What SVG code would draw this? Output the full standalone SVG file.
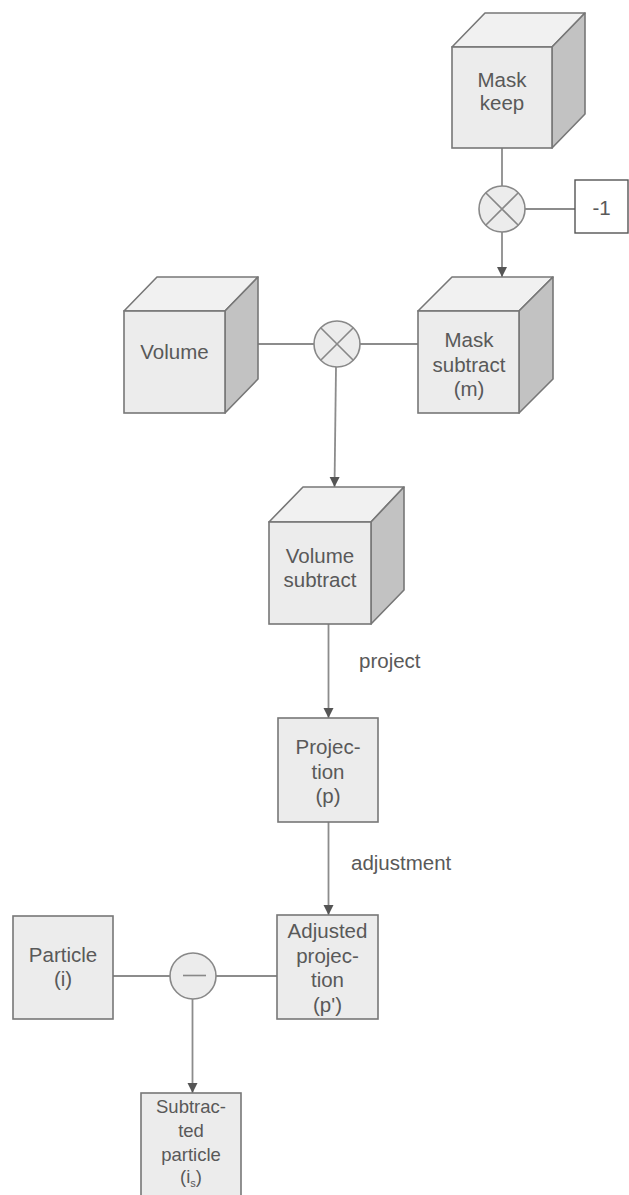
<svg xmlns="http://www.w3.org/2000/svg" width="629" height="1195" viewBox="0 0 629 1195">
  <style>
    .front { fill: #ececec; stroke: #777; stroke-width: 1.6; }
    .top { fill: #f1f1f1; stroke: #777; stroke-width: 1.6; stroke-linejoin: round; }
    .side { fill: #c2c2c2; stroke: #777; stroke-width: 1.6; stroke-linejoin: round; }
    .box { fill: #ececec; stroke: #777; stroke-width: 1.6; }
    .op { fill: #ececec; stroke: #888; stroke-width: 1.6; }
    .opmark { stroke: #888; stroke-width: 1.6; fill: none; }
    .wire { stroke: #8c8c8c; stroke-width: 1.8; fill: none; }
    .lbl { font-family: "Liberation Sans", Arial, sans-serif; font-size: 20.5px; fill: #595959; text-anchor: middle; }
    .edge-lbl { font-family: "Liberation Sans", Arial, sans-serif; font-size: 20.5px; fill: #595959; }
  </style>
  <defs>
    <marker id="arrow" markerWidth="10" markerHeight="12" refX="10" refY="5" orient="auto" markerUnits="userSpaceOnUse">
      <path d="M0,0 L10,5 L0,10 Z" fill="#555"/>
    </marker>
  </defs>

  <!-- connectors -->
  <g id="connectors">
    <line class="wire" x1="502" y1="148" x2="502" y2="186"/>
    <line class="wire" x1="525" y1="209" x2="575" y2="209"/>
    <line class="wire" x1="502" y1="232" x2="502" y2="277" marker-end="url(#arrow)"/>
    <line class="wire" x1="258" y1="344" x2="314" y2="344"/>
    <line class="wire" x1="360" y1="344" x2="418" y2="344"/>
    <line class="wire" x1="336" y1="367" x2="334.5" y2="487" marker-end="url(#arrow)"/>
    <line class="wire" x1="328.5" y1="624" x2="328.5" y2="718" marker-end="url(#arrow)"/>
    <line class="wire" x1="328.5" y1="822" x2="328.5" y2="915" marker-end="url(#arrow)"/>
    <line class="wire" x1="113" y1="976" x2="170" y2="976"/>
    <line class="wire" x1="216" y1="976" x2="277" y2="976"/>
    <line class="wire" x1="192.5" y1="999" x2="192.5" y2="1093" marker-end="url(#arrow)"/>
    <text class="edge-lbl" x="359" y="668">project</text>
    <text class="edge-lbl" x="351" y="870">adjustment</text>
  </g>

  <!-- Mask keep (cube) -->
  <g id="mask-keep">
    <polygon class="top" points="452,47 485,13 585,13 552,47"/>
    <polygon class="side" points="552,47 585,13 585,114 552,148"/>
    <rect class="front" x="452" y="47" width="100" height="101"/>
    <text class="lbl" x="502" y="87">Mask</text>
    <text class="lbl" x="502" y="110">keep</text>
  </g>

  <!-- multiply by constant -->
  <g id="mul-keep">
    <circle class="op" cx="502" cy="209" r="23"/>
    <path class="opmark" d="M485.7,192.7 L518.3,225.3 M518.3,192.7 L485.7,225.3"/>
  </g>

  <g id="const-minus-one">
    <rect x="575" y="180" width="53" height="53" fill="#fff" stroke="#555" stroke-width="1.4"/>
    <text class="lbl" x="601.5" y="215">-1</text>
  </g>

  <!-- Mask subtract (cube) -->
  <g id="mask-subtract">
    <polygon class="top" points="418,311 452,277 553,277 519,311"/>
    <polygon class="side" points="519,311 553,277 553,379 519,413"/>
    <rect class="front" x="418" y="311" width="101" height="102"/>
    <text class="lbl" x="469" y="347">Mask</text>
    <text class="lbl" x="469" y="372">subtract</text>
    <text class="lbl" x="469" y="396">(m)</text>
  </g>

  <!-- Volume (cube) -->
  <g id="volume">
    <polygon class="top" points="124,311 157,277 258,277 225,311"/>
    <polygon class="side" points="225,311 258,277 258,379 225,413"/>
    <rect class="front" x="124" y="311" width="101" height="102"/>
    <text class="lbl" x="174.5" y="359">Volume</text>
  </g>

  <!-- multiply volume by mask -->
  <g id="mul-volume">
    <circle class="op" cx="337" cy="344" r="23"/>
    <path class="opmark" d="M320.7,327.7 L353.3,360.3 M353.3,327.7 L320.7,360.3"/>
  </g>

  <!-- Volume subtract (cube) -->
  <g id="volume-subtract">
    <polygon class="top" points="269,522 303,487 404,487 371,522"/>
    <polygon class="side" points="371,522 404,487 404,590 371,624"/>
    <rect class="front" x="269" y="522" width="102" height="102"/>
    <text class="lbl" x="320" y="563">Volume</text>
    <text class="lbl" x="320" y="587">subtract</text>
  </g>

  <!-- Projection -->
  <g id="projection">
    <rect class="box" x="278" y="718" width="100" height="104"/>
    <text class="lbl" x="328" y="754">Projec-</text>
    <text class="lbl" x="328" y="779">tion</text>
    <text class="lbl" x="328" y="803">(p)</text>
  </g>

  <!-- Adjusted projection -->
  <g id="adjusted-projection">
    <rect class="box" x="277" y="915" width="101" height="104"/>
    <text class="lbl" x="327.5" y="938">Adjusted</text>
    <text class="lbl" x="327.5" y="963">projec-</text>
    <text class="lbl" x="327.5" y="987">tion</text>
    <text class="lbl" x="327.5" y="1012">(p')</text>
  </g>

  <!-- Particle -->
  <g id="particle">
    <rect class="box" x="13" y="916" width="100" height="103"/>
    <text class="lbl" x="63" y="962">Particle</text>
    <text class="lbl" x="63" y="986">(i)</text>
  </g>

  <!-- subtraction -->
  <g id="subtract-op">
    <circle class="op" cx="193" cy="976" r="23"/>
    <line class="opmark" x1="183" y1="975.5" x2="206" y2="975.5"/>
  </g>

  <!-- Subtracted particle -->
  <g id="subtracted-particle">
    <rect class="box" x="141" y="1093" width="100" height="120"/>
    <text class="lbl" x="191" y="1113" style="font-size:18.5px">Subtrac-</text>
    <text class="lbl" x="191" y="1137" style="font-size:18.5px">ted</text>
    <text class="lbl" x="191" y="1161" style="font-size:18.5px">particle</text>
    <text class="lbl" x="191" y="1183" style="font-size:18.5px">(i<tspan font-size="11" dy="4">s</tspan><tspan dy="-4">)</tspan></text>
  </g>
</svg>
